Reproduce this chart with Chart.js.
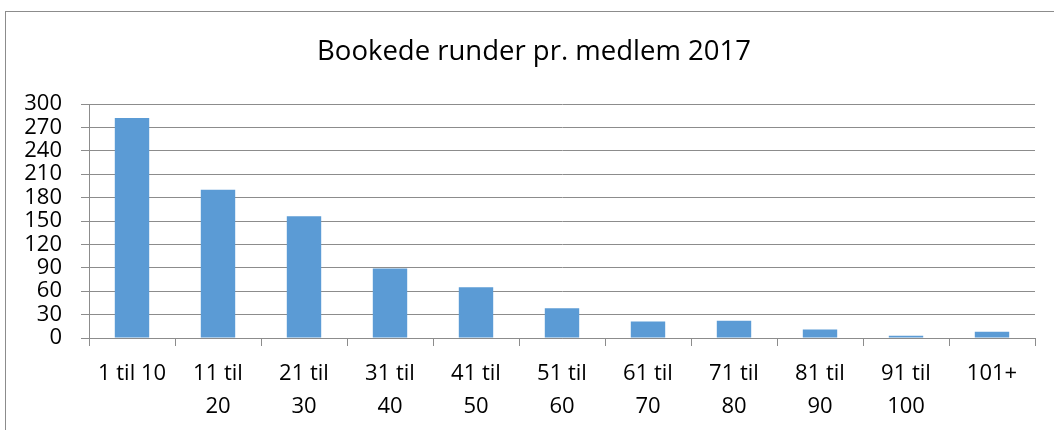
<!DOCTYPE html>
<html>
<head>
<meta charset="utf-8">
<script src="https://cdn.jsdelivr.net/npm/chart.js@4/dist/chart.umd.min.js"></script>
<style>
  html, body { margin: 0; padding: 0; background: #fff; }
  #wrap { position: relative; width: 1054px; height: 430px; }
  #frame { position: absolute; left: 5px; top: 11px; right: 0; bottom: 0;
           border-top: 1px solid #8c8c8c; border-left: 1px solid #8c8c8c; }
  canvas { position: absolute; left: 0; top: 0; }
</style>
</head>
<body>
<div id="wrap">
  <div id="frame"></div>
  <canvas id="rounds" width="1054" height="430"></canvas>
</div>
<script>
const categories = [
  '1 til 10', ['11 til', '20'], ['21 til', '30'], ['31 til', '40'], ['41 til', '50'],
  ['51 til', '60'], ['61 til', '70'], ['71 til', '80'], ['81 til', '90'], ['91 til', '100'], '101+'
];
const members = [282, 190, 156, 89, 65, 38, 21, 22, 11, 3, 8];
const yTicks = [0, 30, 60, 90, 120, 150, 180, 210, 240, 270, 300];
const chartTitle = 'Bookede runder pr. medlem 2017';

const gridGray = '#8c8c8c';
const font = "'Open Sans', 'Liberation Sans', sans-serif";

// title sits centred on the frame, not on the plot, so draw it by hand
const titleText = {
  id: 'titleText',
  afterDraw(chart) {
    const ctx = chart.ctx;
    ctx.save();
    ctx.font = `27.5px ${font}`;
    ctx.fillStyle = '#000';
    ctx.textAlign = 'center';
    ctx.textBaseline = 'middle';
    ctx.fillText(chartTitle, 534, 52);
    ctx.restore();
  }
};

const rounds = new Chart(document.getElementById('rounds'), {
  type: 'bar',
  data: {
    labels: categories,
    datasets: [{
      data: members,
      backgroundColor: '#5B9BD5',
      categoryPercentage: 1,
      barPercentage: 0.4
    }]
  },
  options: {
    responsive: false,
    animation: false,
    layout: { padding: { left: 0, right: 19, top: 104, bottom: 0 } },
    plugins: {
      legend: { display: false },
      tooltip: { enabled: false },
      title: { display: false }
    },
    scales: {
      x: {
        afterFit: s => { s.height = 92; },
        grid: { offset: true, drawOnChartArea: false, drawTicks: true, tickLength: 8, color: gridGray },
        border: { display: true, color: gridGray },
        ticks: {
          color: '#000', maxRotation: 0, autoSkip: false, padding: 11,
          font: { family: font, size: 22, lineHeight: 1.5 }
        }
      },
      y: {
        min: 0,
        max: 300,
        afterFit: s => { s.width = 89; },
        afterBuildTicks: s => { s.ticks = yTicks.map(v => ({ value: v })); },
        grid: { color: gridGray, tickLength: 8 },
        border: { display: true, color: gridGray },
        ticks: {
          color: '#000', padding: 19, autoSkip: false,
          font: { family: font, size: 22, lineHeight: 1 }
        }
      }
    }
  },
  plugins: [titleText]
});
</script>
</body>
</html>
